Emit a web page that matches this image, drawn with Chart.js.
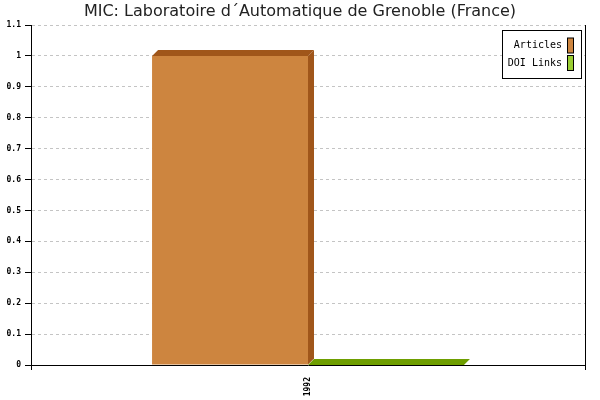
<!DOCTYPE html>
<html>
<head>
<meta charset="utf-8">
<script src="https://cdn.jsdelivr.net/npm/chart.js@4/dist/chart.umd.min.js"></script>
<style>
  html, body { margin: 0; padding: 0; background: #fff; }
  #wrap { width: 600px; height: 400px; }
</style>
</head>
<body>
<div id="wrap"><canvas id="chart_mic"></canvas></div>
<script>
// ----------------------- data -----------------------
const years = ["1992"];
const articleCounts = [1];
const doiLinkCounts = [0];
const yMax = 1.1;
const yStep = 0.1;

const seriesNames = ["Articles", "DOI Links"];
const frontColors = ["#CD853F", "#9ACD32"];
const shadeColors = ["#A0561A", "#6E9E00"];

const DEPTH = 6;
const MONO = "'DejaVu Sans Mono', monospace";

// ----------------------- plugins -----------------------

// fake 3D: top and side faces on every bar
const bars3d = {
    id: "bars3d",
    afterDatasetDraw(chart, args) {
        const ctx = chart.ctx;
        const meta = chart.getDatasetMeta(args.index);
        ctx.save();
        ctx.fillStyle = shadeColors[args.index];
        meta.data.forEach(bar => {
            const p = bar.getProps(["x", "y", "base", "width"], true);
            const left = p.x - p.width / 2;
            const right = p.x + p.width / 2;
            const top = Math.min(p.y, p.base);
            const bottom = Math.max(p.y, p.base);

            ctx.beginPath();
            ctx.moveTo(left, top);
            ctx.lineTo(left + DEPTH, top - DEPTH);
            ctx.lineTo(right + DEPTH, top - DEPTH);
            ctx.lineTo(right, top);
            ctx.closePath();
            ctx.fill();

            if (bottom > top) {
                ctx.beginPath();
                ctx.moveTo(right, top);
                ctx.lineTo(right + DEPTH, top - DEPTH);
                ctx.lineTo(right + DEPTH, bottom - DEPTH);
                ctx.lineTo(right, bottom);
                ctx.closePath();
                ctx.fill();
            }
        });
        ctx.restore();
    }
};

// boxed legend in the top right corner, swatch on the right of the text
const boxLegend = {
    id: "boxLegend",
    afterDraw(chart) {
        const ctx = chart.ctx;
        const area = chart.chartArea;
        const right = area.right - 4;
        const top = area.top + 5.5;
        const w = 79;
        const h = 48;
        ctx.save();
        ctx.fillStyle = "#fff";
        ctx.fillRect(right - w, top, w, h);
        ctx.strokeStyle = "#000";
        ctx.lineWidth = 1;
        ctx.strokeRect(right - w + 0.5, top, w, h);

        ctx.font = "10px " + MONO;
        ctx.textAlign = "right";
        ctx.textBaseline = "middle";
        chart.data.datasets.forEach((ds, i) => {
            const cy = top + 15 + i * 17.5;
            ctx.fillStyle = "#000";
            ctx.fillText(ds.label, right - 19, cy);
            ctx.fillStyle = ds.backgroundColor;
            ctx.fillRect(right - 13.5, cy - 7.5, 6, 15);
            ctx.strokeRect(right - 13.5, cy - 7.5, 6, 15);
        });
        ctx.restore();
    }
};

// ----------------------- chart -----------------------

new Chart(document.getElementById("chart_mic"), {
    type: "bar",
    data: {
        labels: years,
        datasets: [
            { label: seriesNames[0], data: articleCounts, backgroundColor: frontColors[0] },
            { label: seriesNames[1], data: doiLinkCounts, backgroundColor: frontColors[1] }
        ]
    },
    options: {
        responsive: true,
        maintainAspectRatio: false,
        animation: false,
        events: [],
        layout: { padding: 0 },
        datasets: {
            bar: { categoryPercentage: 0.563, barPercentage: 1, borderWidth: 0 }
        },
        plugins: {
            legend: { display: false },
            tooltip: { enabled: false },
            title: {
                display: true,
                text: "MIC: Laboratoire d´Automatique de Grenoble (France)",
                color: "#222",
                font: { family: "'DejaVu Sans', sans-serif", size: 16, weight: "normal" },
                padding: { top: 2, bottom: 3.8 }
            }
        },
        scales: {
            x: {
                offset: true,
                grid: {
                    offset: true,
                    drawOnChartArea: false,
                    tickLength: 5,
                    tickColor: "#000"
                },
                border: { color: "#000" },
                ticks: {
                    color: "#000",
                    font: { family: MONO, size: 8, weight: "bold" },
                    minRotation: 90,
                    maxRotation: 90,
                    padding: 7
                },
                afterFit(scale) { scale.height = 35; }
            },
            y: {
                min: 0,
                max: yMax,
                grid: {
                    color: ctx => ctx.tick.value === 0 ? "rgba(0,0,0,0)" : "#c4c4c4",
                    tickLength: 6,
                    tickColor: "#000",
                    tickBorderDash: []
                },
                border: { color: "#000", dash: [3, 3] },
                ticks: {
                    stepSize: yStep,
                    color: "#000",
                    padding: 4,
                    font: { family: MONO, size: 8, weight: "bold" },
                    callback: v => String(Math.round(v * 10) / 10)
                },
                afterFit(scale) { scale.width = 31; }
            },
            yRight: {
                position: "right",
                grid: { drawOnChartArea: false, drawTicks: false },
                border: { color: "#000" },
                ticks: { display: false },
                afterFit(scale) { scale.width = 15; }
            }
        }
    },
    plugins: [bars3d, boxLegend]
});
</script>
</body>
</html>
